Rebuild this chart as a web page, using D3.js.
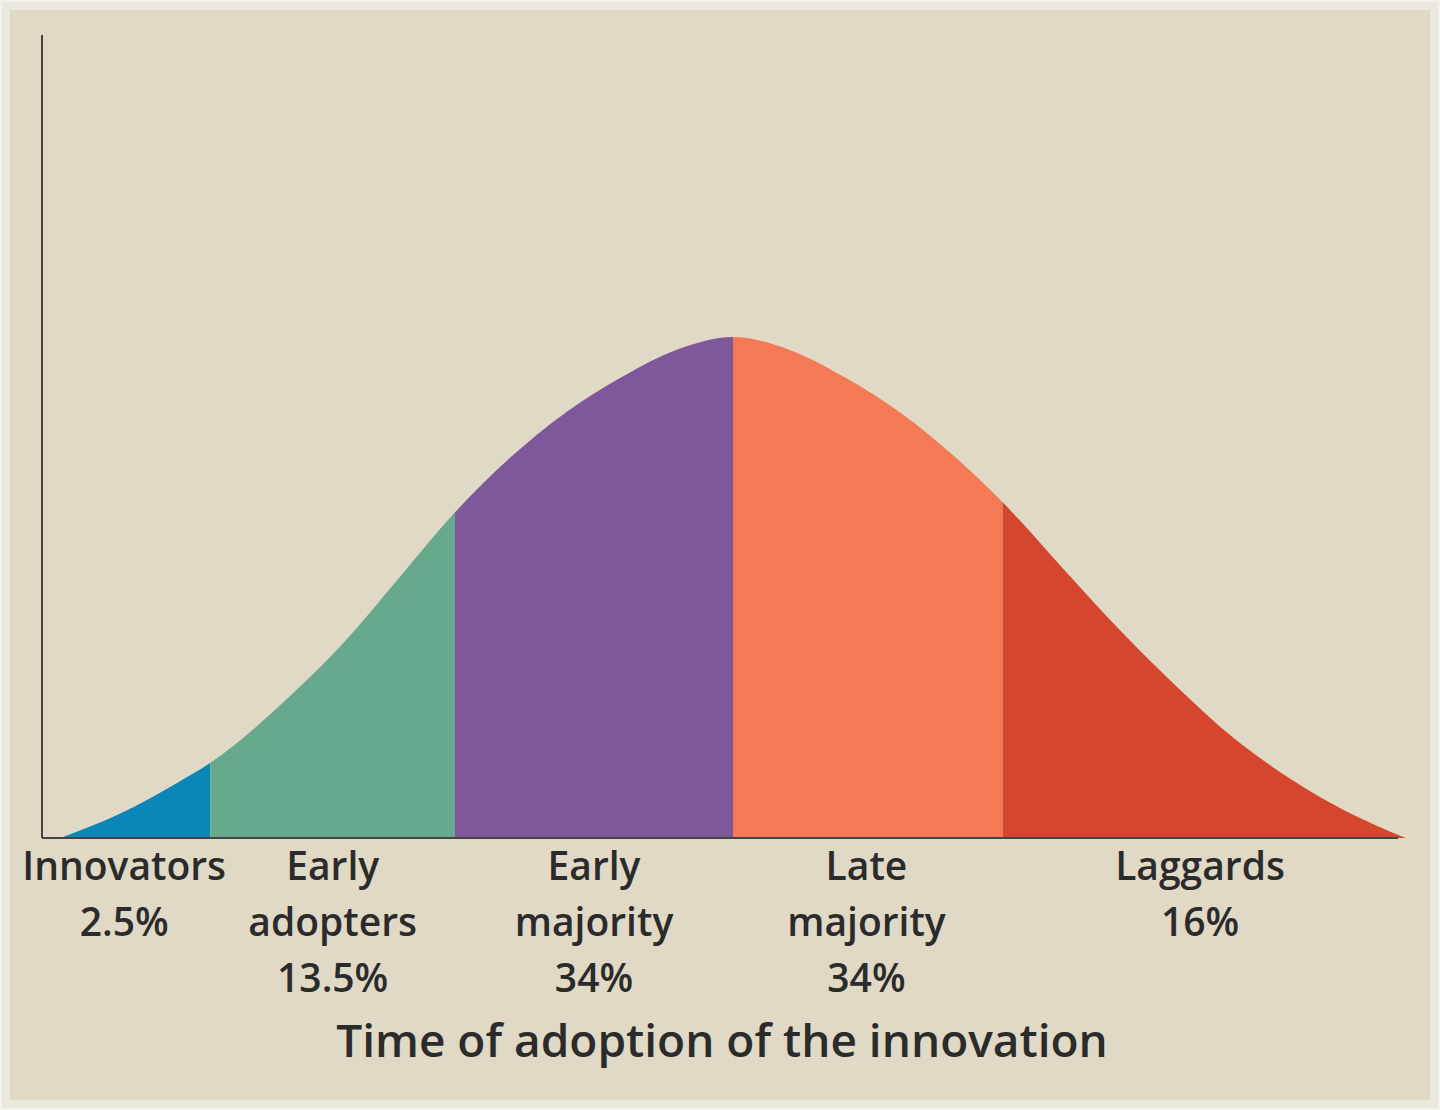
<!DOCTYPE html>
<html><head><meta charset="utf-8">
<script src="https://cdn.jsdelivr.net/npm/d3@7"></script>
<style>body{margin:0;background:#f4f2ec}</style>
</head><body>
<svg id="chart" width="1440" height="1110"></svg>
<script>
// curve: position in standard deviations, height (peak = 100)
var curveX = [-2.42,-2.2,-2.0,-1.88,-1.6,-1.4,-1.2,-1.0,-0.8,-0.6,-0.4,-0.2,0,0.2,0.4,0.6,0.8,0.97,1.2,1.4,1.6,1.8,2.0,2.2,2.42];
var curveY = [0,5,11,15,28,39,52,65,76,85,92,97.5,100,97.5,92,85,76,67,53,41,30,20,12,5.5,0];
var bounds = [-2.42,-1.88,-1.0,0,0.97,2.42];
var segNames = [["Innovators","2.5%"],["Early","adopters","13.5%"],["Early","majority","34%"],["Late","majority","34%"],["Laggards","16%"]];
var segColors = ["#0a86b8","#66a98c","#7f579b","#f47a55","#d4462e"];
var labelX = [-2.19,-1.44,-0.5,0.48,1.68];

var svg = d3.select("#chart");
svg.append("rect").attr("x",6).attr("y",6).attr("width",1428).attr("height",1098)
  .attr("fill","#dfd9c5").attr("stroke","#ebe8de").attr("stroke-width",8);

var x = d3.scaleLinear().domain([-1,0]).range([455,733]);
var y = d3.scaleLinear().domain([0,100]).range([838,337]);
var pts = curveX.map(function(d,i){return [d,curveY[i]];});
var area = d3.area().x(function(d){return x(d[0]);}).y0(y(0)).y1(function(d){return y(d[1]);}).curve(d3.curveMonotoneX);

var defs = svg.append("defs");
segColors.forEach(function(c,i){
  defs.append("clipPath").attr("id","seg"+i).append("rect")
    .attr("x",x(bounds[i])).attr("width",x(bounds[i+1])-x(bounds[i])).attr("y",0).attr("height",1110);
  svg.append("path").datum(pts).attr("d",area).attr("fill",c).attr("clip-path","url(#seg"+i+")");
});

svg.append("line").attr("x1",42).attr("x2",42).attr("y1",35).attr("y2",838).attr("stroke","#444").attr("stroke-width",2);
svg.append("line").attr("x1",42).attr("x2",1398).attr("y1",838).attr("y2",838).attr("stroke","#444").attr("stroke-width",2);

segNames.forEach(function(lines,i){
  var t = svg.append("text").attr("text-anchor","middle").attr("font-family","Open Sans")
    .attr("font-weight",600).attr("font-size",39).attr("fill","#2b2b2b");
  lines.forEach(function(s,j){
    t.append("tspan").attr("x",x(labelX[i])).attr("y",880+j*56).text(s);
  });
});
svg.append("text").attr("x",722).attr("y",1057).attr("text-anchor","middle").attr("font-family","Open Sans")
  .attr("font-weight",600).attr("font-size",46).attr("fill","#2b2b2b").text("Time of adoption of the innovation");
</script>
</body></html>
